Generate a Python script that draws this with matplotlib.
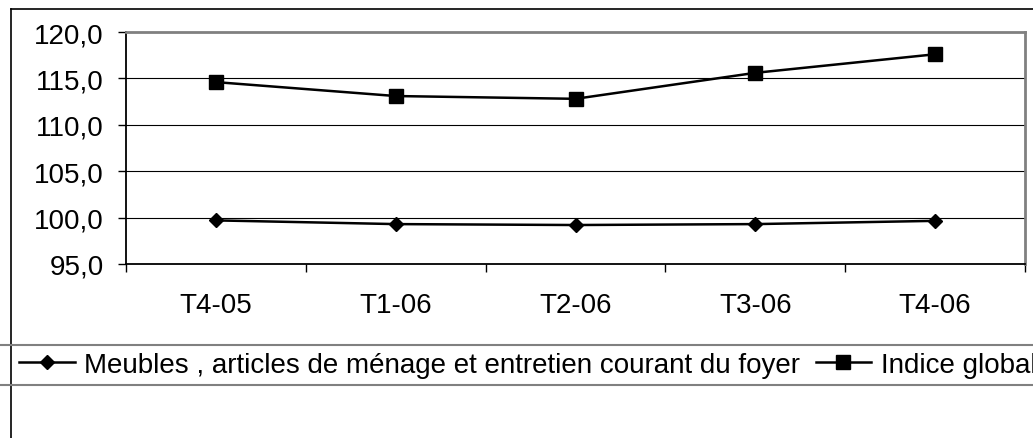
import matplotlib
matplotlib.use("Agg")
import matplotlib.pyplot as plt
from matplotlib.lines import Line2D
from matplotlib.ticker import FixedLocator, FuncFormatter

categories = ["T4-05", "T1-06", "T2-06", "T3-06", "T4-06"]
meubles = [99.7, 99.3, 99.2, 99.3, 99.65]
indice_global = [114.6, 113.1, 112.8, 115.6, 117.6]
series_names = ["Meubles , articles de ménage et entretien courant du foyer", "Indice global"]
y_ticks = [95, 100, 105, 110, 115, 120]

plt.rcParams['font.family'] = ['Liberation Sans', 'DejaVu Sans']
FS = 20

W, H = 1033, 439
fig = plt.figure(figsize=(W / 100, H / 100), dpi=100)

def fx(px):
    return px / W

def fy(py):
    return 1 - py / H

ax = fig.add_axes([fx(126), fy(265), fx(1025) - fx(126), fy(33) - fy(265)])
x = list(range(len(categories)))
l1, = ax.plot(x, meubles, color='black', lw=1.8, marker='D', ms=7.6, mfc='black', mec='black',
              label=series_names[0], zorder=3)
l2, = ax.plot(x, indice_global, color='black', lw=1.8, marker='s', ms=10.5, mfc='black', mec='black',
              label=series_names[1], zorder=3)

ax.set_xlim(-0.5, len(categories) - 0.5)
ax.set_ylim(95, 120)
ax.yaxis.set_major_locator(FixedLocator(y_ticks))
ax.yaxis.set_major_formatter(FuncFormatter(lambda v, p: f"{v:.1f}".replace('.', ',')))
ax.tick_params(axis='y', direction='out', length=6, width=1, pad=10, labelsize=FS, colors='black')
for yv in y_ticks[1:-1]:
    ax.axhline(yv, color='black', lw=0.8, zorder=1)

ax.set_xticks([i - 0.5 for i in range(len(categories) + 1)])
ax.set_xticklabels([])
ax.set_xticks(x, minor=True)
ax.set_xticklabels(categories, minor=True)
ax.tick_params(axis='x', which='major', direction='out', length=6, width=1)
ax.tick_params(axis='x', which='minor', length=0, pad=20, labelsize=FS)

for s in ['left', 'bottom']:
    ax.spines[s].set_color('black')
    ax.spines[s].set_linewidth(1.3)
for s in ['top', 'right']:
    ax.spines[s].set_color('#808080')
    ax.spines[s].set_linewidth(2)

# outer chart border (extends beyond image on right and bottom)
fig.add_artist(Line2D([fx(11), fx(11)], [fy(10), fy(H + 5)], color='black', lw=1.2))
fig.add_artist(Line2D([fx(11), fx(W + 5)], [fy(10), fy(10)], color='black', lw=1.2))

# legend frame lines (box wider than image)
fig.add_artist(Line2D([0, 1], [fy(346), fy(346)], color='#808080', lw=1.5))
fig.add_artist(Line2D([0, 1], [fy(386), fy(386)], color='#808080', lw=1.5))

leg = fig.legend(handles=[l1, l2], loc='center left', bbox_to_anchor=(fx(19), fy(366)),
                 ncol=2, frameon=False, fontsize=FS, handlelength=2.0, handletextpad=0.35,
                 columnspacing=0.55, borderpad=0, borderaxespad=0, markerscale=0.9)

fig.savefig("out.png", dpi=100)
